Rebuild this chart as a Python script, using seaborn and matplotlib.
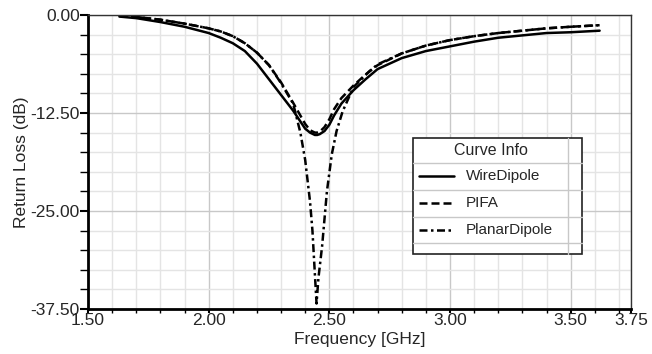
import numpy as np
import pandas as pd
import matplotlib
matplotlib.use("Agg")
import matplotlib.pyplot as plt
from matplotlib.ticker import MultipleLocator, FixedLocator
import seaborn as sns

# values
freq = [1.63, 1.70, 1.80, 1.90, 2.00, 2.05, 2.10, 2.15, 2.20, 2.25, 2.30, 2.35,
        2.40, 2.42, 2.44, 2.45, 2.46, 2.48, 2.50, 2.52, 2.55, 2.60, 2.65, 2.70,
        2.80, 2.90, 3.00, 3.10, 3.20, 3.30, 3.40, 3.50, 3.62]
wire_dipole = [-0.2, -0.4, -0.9, -1.5, -2.3, -2.9, -3.6, -4.6, -6.2, -8.2, -10.2, -12.2,
               -14.5, -15.0, -15.3, -15.3, -15.2, -14.8, -14.0, -12.8, -11.3, -9.6, -8.2, -6.9,
               -5.5, -4.6, -4.0, -3.4, -2.9, -2.6, -2.3, -2.2, -2.0]
pifa = [-0.1, -0.25, -0.6, -1.1, -1.7, -2.1, -2.7, -3.6, -4.8, -6.4, -8.6, -11.2,
        -13.9, -14.7, -15.0, -15.0, -14.9, -14.3, -13.3, -12.0, -10.6, -9.0, -7.6, -6.4,
        -4.9, -3.9, -3.2, -2.7, -2.3, -2.0, -1.7, -1.5, -1.3]

planar_freq = [1.63, 1.70, 1.80, 1.90, 2.00, 2.05, 2.10, 2.15, 2.20, 2.25, 2.30, 2.35,
               2.38, 2.40, 2.42, 2.43, 2.44, 2.447, 2.455, 2.47, 2.49, 2.51, 2.53, 2.555,
               2.60, 2.665, 2.70, 2.80, 2.90, 3.00, 3.10, 3.20, 3.30, 3.40, 3.50, 3.62]
planar_dipole = [-0.1, -0.25, -0.6, -1.1, -1.7, -2.1, -2.7, -3.6, -4.8, -6.4, -8.7, -11.3,
                 -15.0, -18.5, -23.8, -27.5, -33.0, -36.8, -33.5, -29.5, -22.5, -17.8, -14.8, -12.3,
                 -9.2, -7.2, -6.3, -4.9, -3.9, -3.2, -2.7, -2.3, -2.0, -1.7, -1.5, -1.3]

series_names = ["WireDipole", "PIFA", "PlanarDipole"]
x_ticks = [1.50, 2.00, 2.50, 3.00, 3.50, 3.75]
y_ticks = [0.00, -12.50, -25.00, -37.50]

sns.set_style("white")
plt.rcParams["font.family"] = ["Liberation Sans", "DejaVu Sans"]

fig = plt.figure(figsize=(6.52, 3.54), dpi=100)
ax = fig.add_axes([88 / 652, 1 - 309 / 354, 543 / 652, 294 / 354])

styles = {
    "WireDipole": dict(linestyle="-"),
    "PIFA": dict(dashes=(3.2, 1.6)),
    "PlanarDipole": dict(dashes=(3.2, 1.4, 1.0, 1.4)),
}
data = {
    "WireDipole": (freq, wire_dipole),
    "PIFA": (freq, pifa),
    "PlanarDipole": (planar_freq, planar_dipole),
}
for name in series_names:
    xs, ys = data[name]
    sns.lineplot(x=xs, y=ys, ax=ax, color="black", lw=1.8, **styles[name])

ax.set_xlim(1.5, 3.75)
ax.set_ylim(-37.5, 0)
ax.xaxis.set_major_locator(FixedLocator(x_ticks))
ax.xaxis.set_minor_locator(MultipleLocator(0.1))
ax.yaxis.set_major_locator(FixedLocator(y_ticks))
ax.yaxis.set_minor_locator(MultipleLocator(2.5))
ax.set_xticklabels([f"{t:.2f}" for t in x_ticks])
ax.set_yticklabels([f"{t:.2f}" for t in y_ticks])

ax.grid(which="minor", color="#e4e4e4", lw=1.0)
ax.grid(which="major", color="#c8c8c8", lw=1.0)
ax.set_axisbelow(True)

ax.tick_params(which="both", direction="out", color="black", labelsize=12.5,
               left=True, bottom=True)
ax.tick_params(axis="y", which="major", length=6, width=1.5, pad=0)
ax.tick_params(axis="y", which="minor", length=6, width=1.0)
ax.tick_params(axis="x", which="major", length=3, width=1.5, pad=0)
ax.tick_params(axis="x", which="minor", length=3, width=1.0)

for s in ["left", "bottom"]:
    ax.spines[s].set_linewidth(2.0)
    ax.spines[s].set_color("black")
for s in ["top", "right"]:
    ax.spines[s].set_linewidth(1.0)
    ax.spines[s].set_color("#333333")

ax.set_xlabel("Frequency [GHz]", fontsize=12.5, labelpad=3)
ax.set_ylabel("Return Loss (dB)", fontsize=12.5, labelpad=1)

# table-style legend box
tr = ax.transAxes
x0, x1, xsep = 0.599, 0.910, 0.884
rows = [0.582, 0.497, 0.405, 0.313, 0.224, 0.187]
ax.add_patch(plt.Rectangle((x0, rows[-1]), x1 - x0, rows[0] - rows[-1], transform=tr,
                           facecolor="white", edgecolor="#222222", lw=1.2, zorder=5))
for r in rows[1:-1]:
    ax.plot([x0, x1], [r, r], transform=tr, color="#c8c8c8", lw=1.0, zorder=6)
ax.plot([xsep, xsep], [rows[0], rows[-1]], transform=tr, color="#c8c8c8", lw=1.0, zorder=6)
ax.text((x0 + xsep) / 2, (rows[0] + rows[1]) / 2, "Curve Info", transform=tr,
        ha="center", va="center", fontsize=11.5, zorder=7)
for i, name in enumerate(series_names):
    yc = (rows[i + 1] + rows[i + 2]) / 2
    ax.plot([0.609, 0.674], [yc, yc], transform=tr, color="black", lw=1.8, zorder=7,
            **styles[name])
    ax.text(0.696, yc, name, transform=tr, ha="left", va="center", fontsize=11, zorder=7)

fig.savefig("out.png", dpi=100)
